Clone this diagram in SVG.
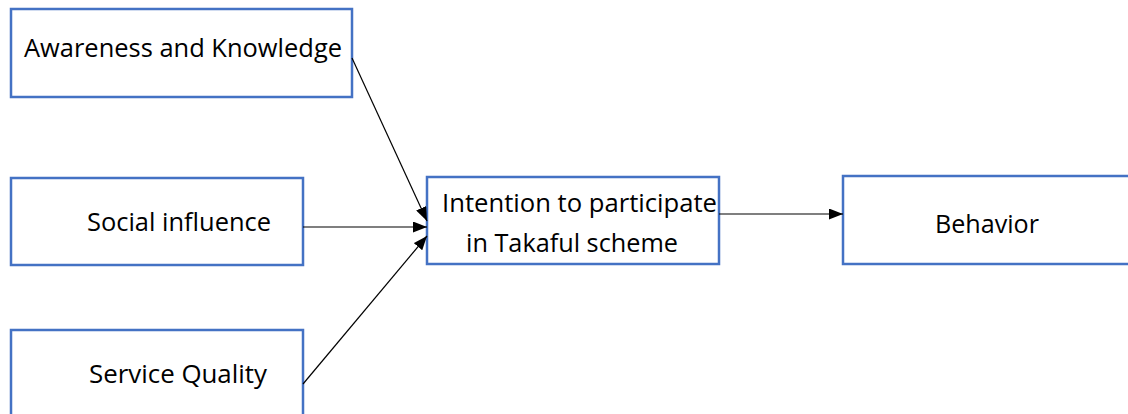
<svg xmlns="http://www.w3.org/2000/svg" width="1128" height="414" viewBox="0 0 1128 414">
<style>
.box{fill:#fff;stroke:#4472C4;stroke-width:2.5}
.t{font-family:"Open Sans","Noto Sans",sans-serif;font-size:26px;fill:#000}
.c{stroke:#000;stroke-width:1.2;fill:none;marker-end:url(#ah)}
</style>
<defs>
<marker id="ah" viewBox="0 0 14 11" refX="14" refY="5.5" markerWidth="14" markerHeight="11" markerUnits="userSpaceOnUse" orient="auto">
<path d="M0,0 L14,5.5 L0,11 Z" fill="#000"/>
</marker>
</defs>
<g id="n1"><rect class="box" x="11" y="9" width="341" height="88"/><text class="t" x="24" y="57" textLength="318" lengthAdjust="spacingAndGlyphs">Awareness and Knowledge</text></g>
<g id="n2"><rect class="box" x="11" y="178" width="292" height="87"/><text class="t" x="87" y="231" textLength="184" lengthAdjust="spacingAndGlyphs">Social influence</text></g>
<g id="n3"><rect class="box" x="11" y="330" width="292" height="100"/><text class="t" x="89" y="383" textLength="178" lengthAdjust="spacingAndGlyphs">Service Quality</text></g>
<g id="n4"><rect class="box" x="427" y="177" width="292" height="87"/><text class="t" x="442" y="212" textLength="275" lengthAdjust="spacingAndGlyphs">Intention to participate</text><text class="t" x="466" y="252" textLength="212" lengthAdjust="spacingAndGlyphs">in Takaful scheme</text></g>
<g id="n5"><rect class="box" x="843" y="176" width="300" height="88"/><text class="t" x="935" y="233" textLength="104" lengthAdjust="spacingAndGlyphs">Behavior</text></g>
<g id="connectors">
<line class="c" x1="352" y1="58" x2="427" y2="221"/>
<line class="c" x1="303" y1="227" x2="427" y2="227"/>
<line class="c" x1="303" y1="384" x2="427" y2="236"/>
<line class="c" x1="719" y1="214" x2="843" y2="214"/>
</g>
</svg>
